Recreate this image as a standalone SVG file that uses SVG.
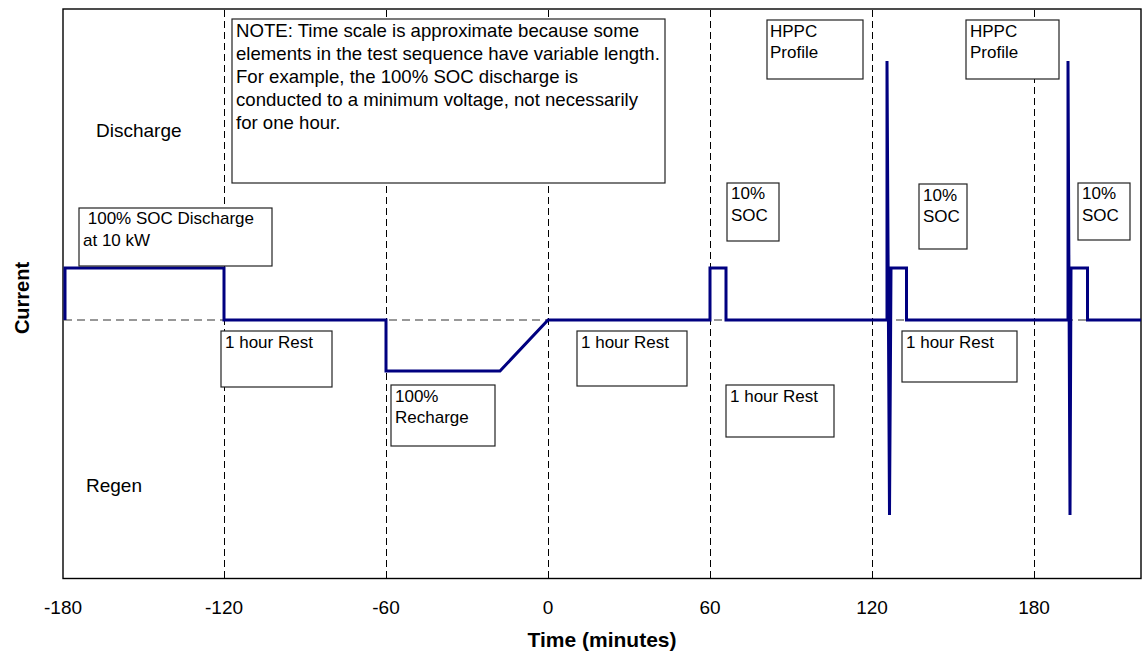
<svg xmlns="http://www.w3.org/2000/svg" width="1143" height="666" viewBox="0 0 1143 666">
<style>
text{font-family:"Liberation Sans",Arial,sans-serif;fill:#000}
.box{fill:#fff;stroke:#222;stroke-width:1.2}
.bt{font-size:17px}
.nt{font-size:18.6px}
.ax{font-size:19px}
.grid{stroke:#000;stroke-width:1;stroke-dasharray:7,4;fill:none}
.zero{stroke:#777;stroke-width:1.5;stroke-dasharray:8,5;fill:none}
.wave{stroke:#000080;stroke-width:3;fill:none;stroke-linejoin:miter}
</style>
<rect x="0" y="0" width="1143" height="666" fill="#fff"/>
<g id="plot-area">
<rect x="63" y="9" width="1078" height="569.5" fill="#fff" stroke="#000" stroke-width="1.4"/>
</g>
<g id="grid">
<line class="grid" x1="224.5" y1="10" x2="224.5" y2="578"/>
<line class="grid" x1="386.5" y1="10" x2="386.5" y2="578"/>
<line class="grid" x1="548.5" y1="10" x2="548.5" y2="578"/>
<line class="grid" x1="710.5" y1="10" x2="710.5" y2="578"/>
<line class="grid" x1="872.5" y1="10" x2="872.5" y2="578"/>
<line class="grid" x1="1034.5" y1="10" x2="1034.5" y2="578"/>
<line class="zero" x1="64" y1="320" x2="1140" y2="320"/>
</g>
<g id="connectors">
<path class="wave" d="M65,320 V268 H224 V320 H386 V371 H500 L548,320 H710 V268 H726 V320 H887 V61 L889.5,515 L891,268 H906.5 V320 H1068 V61 L1070,515 L1071,268 H1087.5 V320 H1141"/>
</g>
<g id="note">
<rect class="box" x="232" y="19" width="433" height="164"/>
<text class="nt" x="236" y="37">NOTE: Time scale is approximate because some</text>
<text class="nt" x="236" y="60">elements in the test sequence have variable length.</text>
<text class="nt" x="236" y="83">For example, the 100% SOC discharge is</text>
<text class="nt" x="236" y="106">conducted to a minimum voltage, not necessarily</text>
<text class="nt" x="236" y="129">for one hour.</text>
</g>
<g id="soc-discharge">
<rect class="box" x="79" y="208" width="193" height="58"/>
<text class="bt" x="83" y="224" xml:space="preserve"> 100% SOC Discharge</text>
<text class="bt" x="83" y="246">at 10 kW</text>
</g>
<g id="rest1">
<rect class="box" x="221" y="331" width="111" height="56"/>
<text class="bt" x="225" y="348">1 hour Rest</text>
</g>
<g id="recharge">
<rect class="box" x="391" y="385" width="104" height="61"/>
<text class="bt" x="395" y="402">100%</text>
<text class="bt" x="395" y="423">Recharge</text>
</g>
<g id="rest2">
<rect class="box" x="577" y="331" width="110" height="55"/>
<text class="bt" x="581" y="348">1 hour Rest</text>
</g>
<g id="rest3">
<rect class="box" x="726" y="385" width="108" height="52"/>
<text class="bt" x="730" y="402">1 hour Rest</text>
</g>
<g id="rest4">
<rect class="box" x="902" y="331" width="115" height="51"/>
<text class="bt" x="906" y="348">1 hour Rest</text>
</g>
<g id="hppc1">
<rect class="box" x="767" y="20" width="96" height="59"/>
<text class="bt" x="770" y="37">HPPC</text>
<text class="bt" x="770" y="58">Profile</text>
</g>
<g id="hppc2">
<rect class="box" x="966" y="20" width="93" height="59"/>
<text class="bt" x="970" y="37">HPPC</text>
<text class="bt" x="970" y="58">Profile</text>
</g>
<g id="soc10-1">
<rect class="box" x="727" y="183" width="52" height="58"/>
<text class="bt" x="731" y="199">10%</text>
<text class="bt" x="731" y="221">SOC</text>
</g>
<g id="soc10-2">
<rect class="box" x="919" y="184" width="48" height="65"/>
<text class="bt" x="923" y="201">10%</text>
<text class="bt" x="923" y="222">SOC</text>
</g>
<g id="soc10-3">
<rect class="box" x="1078" y="183" width="52" height="57"/>
<text class="bt" x="1082" y="199">10%</text>
<text class="bt" x="1082" y="221">SOC</text>
</g>
<g id="labels">
<text class="ax" x="96" y="137">Discharge</text>
<text class="ax" x="86" y="492">Regen</text>
<text class="ax" x="63" y="614" text-anchor="middle">-180</text>
<text class="ax" x="224" y="614" text-anchor="middle">-120</text>
<text class="ax" x="386" y="614" text-anchor="middle">-60</text>
<text class="ax" x="548" y="614" text-anchor="middle">0</text>
<text class="ax" x="710" y="614" text-anchor="middle">60</text>
<text class="ax" x="872" y="614" text-anchor="middle">120</text>
<text class="ax" x="1034" y="614" text-anchor="middle">180</text>
<text x="602" y="647" text-anchor="middle" font-size="21" font-weight="bold">Time (minutes)</text>
<text x="0" y="0" transform="translate(29,298) rotate(-90)" text-anchor="middle" font-size="20" font-weight="bold">Current</text>
</g>
</svg>
